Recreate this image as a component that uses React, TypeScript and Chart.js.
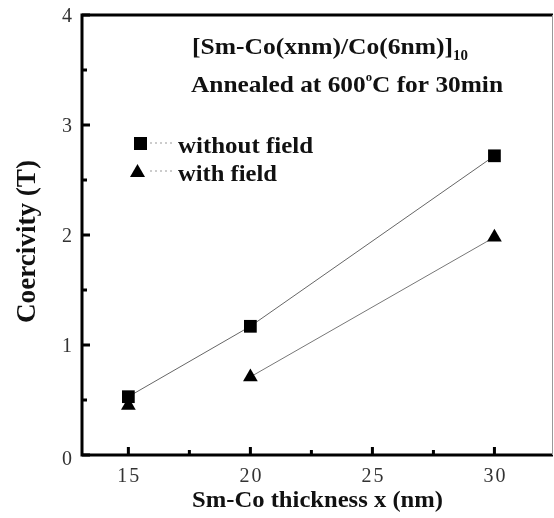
import React, { useEffect, useRef } from "react";
import { Chart, registerables } from "chart.js";

Chart.register(...registerables);

const xValues = [15, 20, 30];
const withoutField = [0.53, 1.17, 2.72];
const withField = [0.45, 0.71, 1.98];
const xTicks = [15, 20, 25, 30];
const xMinor = [17.5, 22.5, 27.5];
const yTicks = [0, 1, 2, 3, 4];
const yMinor = [0.5, 1.5, 2.5, 3.5];
const legendLabels = ["without field", "with field"];
const xTitle = "Sm-Co thickness x (nm)";
const yTitle = "Coercivity (T)";

const SERIF = "'Liberation Serif', 'Times New Roman', serif";

type Part = { t: string; size: number; dy?: number; bold?: boolean };

// draw a run of text parts starting at `left`, fitted horizontally to `width`
function drawFit(ctx: CanvasRenderingContext2D, parts: Part[], left: number, base: number, width: number) {
  let total = 0;
  for (const p of parts) {
    ctx.font = `${p.bold === false ? "" : "bold "}${p.size}px ${SERIF}`;
    total += ctx.measureText(p.t).width;
  }
  const sx = width / total;
  ctx.save();
  ctx.translate(left, base);
  ctx.scale(sx, 1);
  ctx.textAlign = "left";
  ctx.textBaseline = "alphabetic";
  let x = 0;
  for (const p of parts) {
    ctx.font = `${p.bold === false ? "" : "bold "}${p.size}px ${SERIF}`;
    ctx.fillText(p.t, x, p.dy || 0);
    x += ctx.measureText(p.t).width;
  }
  ctx.restore();
}

const decor = {
  id: "decor",
  afterDraw(chart: any) {
    const { ctx, chartArea: a, scales } = chart;
    const xs = scales.x;
    const ys = scales.y;
    ctx.save();
    ctx.strokeStyle = "#000";
    ctx.lineCap = "butt";
    // frame
    ctx.lineWidth = 3;
    ctx.beginPath();
    ctx.moveTo(a.left, a.top);
    ctx.lineTo(a.left, a.bottom);
    ctx.lineTo(a.right, a.bottom);
    ctx.moveTo(a.left - 1.5, a.top);
    ctx.lineTo(a.right, a.top);
    ctx.stroke();
    ctx.lineWidth = 1;
    ctx.strokeStyle = "#999";
    ctx.beginPath();
    ctx.moveTo(a.right - 0.5, a.top);
    ctx.lineTo(a.right - 0.5, a.bottom);
    ctx.stroke();
    // ticks
    ctx.strokeStyle = "#000";
    ctx.lineWidth = 3;
    ctx.beginPath();
    for (const v of yTicks) {
      const py = ys.getPixelForValue(v);
      ctx.moveTo(a.left, py);
      ctx.lineTo(a.left + 8, py);
    }
    for (const v of yMinor) {
      const py = ys.getPixelForValue(v);
      ctx.moveTo(a.left, py);
      ctx.lineTo(a.left + 5, py);
    }
    for (const v of xTicks) {
      const px = xs.getPixelForValue(v);
      ctx.moveTo(px, a.bottom);
      ctx.lineTo(px, a.bottom - 8);
    }
    for (const v of xMinor) {
      const px = xs.getPixelForValue(v);
      ctx.moveTo(px, a.bottom);
      ctx.lineTo(px, a.bottom - 5);
    }
    ctx.stroke();

    // tick labels
    ctx.fillStyle = "#333";
    ctx.font = `20px ${SERIF}`;
    (ctx as any).letterSpacing = "2px";
    ctx.textBaseline = "alphabetic";
    for (const v of xTicks) {
      const s = String(v);
      const w = ctx.measureText(s).width - 2;
      ctx.textAlign = "left";
      ctx.fillText(s, xs.getPixelForValue(v) - w / 2, a.bottom + 27);
    }
    for (const v of yTicks) {
      const s = String(v);
      const w = ctx.measureText(s).width - 2;
      ctx.textAlign = "left";
      ctx.fillText(s, a.left - 10 - w, ys.getPixelForValue(v) + 7 + (v === 0 ? 3 : 0));
    }
    (ctx as any).letterSpacing = "0px";

    // titles
    ctx.fillStyle = "#111";
    drawFit(ctx, [
      { t: "[Sm-Co(xnm)/Co(6nm)]", size: 24 },
      { t: "10", size: 14, dy: 6 },
    ], 192, 54, 276);
    drawFit(ctx, [
      { t: "Annealed at 600", size: 24 },
      { t: "o", size: 12, dy: -11 },
      { t: "C for 30min", size: 24 },
    ], 191, 92, 312);

    // legend
    const legendBase = [153, 181];
    const legendW = [135, 99];
    const legendY = [143, 171];
    legendLabels.forEach((lab, i) => {
      const y = legendY[i];
      ctx.strokeStyle = "#999";
      ctx.lineWidth = 1;
      ctx.setLineDash([2, 3]);
      ctx.beginPath();
      ctx.moveTo(150, y);
      ctx.lineTo(172, y);
      ctx.stroke();
      ctx.setLineDash([]);
      ctx.fillStyle = "#000";
      ctx.beginPath();
      if (i === 0) {
        ctx.rect(134, y - 6, 13, 13);
      } else {
        ctx.moveTo(137.5, y - 7);
        ctx.lineTo(145, y + 6);
        ctx.lineTo(130, y + 6);
        ctx.closePath();
      }
      ctx.fill();
      ctx.fillStyle = "#111";
      drawFit(ctx, [{ t: lab, size: 23 }], 178, legendBase[i], legendW[i]);
    });

    // axis titles
    drawFit(ctx, [{ t: xTitle, size: 24 }], 192, 507, 251);
    ctx.save();
    ctx.translate(35, 323);
    ctx.rotate(-Math.PI / 2);
    ctx.scale(1, 1.1);
    drawFit(ctx, [{ t: yTitle, size: 25 }], 0, 0, 163);
    ctx.restore();
    ctx.restore();
  },
};

export default function App() {
  const ref = useRef<HTMLCanvasElement>(null);
  useEffect(() => {
    const chart = new Chart(ref.current!, {
      type: "line",
      data: {
        datasets: [
          {
            label: legendLabels[0],
            data: xValues.map((x, i) => ({ x, y: withoutField[i] })),
            borderColor: "#666",
            borderWidth: 1,
            pointStyle: "rect",
            pointRadius: 9,
            pointBackgroundColor: "#000",
            pointBorderColor: "#000",
            pointBorderWidth: 0,
          },
          {
            label: legendLabels[1],
            data: xValues.map((x, i) => ({ x, y: withField[i] })),
            borderColor: "#777",
            borderWidth: 1,
            pointStyle: "triangle",
            pointRadius: 8.5,
            pointBackgroundColor: "#000",
            pointBorderColor: "#000",
            pointBorderWidth: 0,
            segment: {
              borderColor: (c: any) => (c.p0DataIndex === 0 ? "rgba(0,0,0,0)" : "#777"),
            },
          },
        ],
      },
      options: {
        responsive: false,
        animation: false,
        layout: { autoPadding: false, padding: { top: 15, right: 1, left: 0, bottom: 0 } },
        plugins: { legend: { display: false }, tooltip: { enabled: false } },
        scales: {
          x: {
            type: "linear",
            min: 13.1,
            max: 32.4,
            afterBuildTicks: (s: any) => {
              s.ticks = xTicks.map((v) => ({ value: v }));
            },
            afterFit: (s: any) => {
              s.height = 63;
            },
            grid: { display: false },
            border: { display: false },
            ticks: { display: false },
          },
          y: {
            type: "linear",
            min: 0,
            max: 4,
            afterBuildTicks: (s: any) => {
              s.ticks = yTicks.map((v) => ({ value: v }));
            },
            afterFit: (s: any) => {
              s.width = 82;
            },
            grid: { display: false },
            border: { display: false },
            ticks: { display: false },
          },
        },
      },
      plugins: [decor],
    } as any);
    return () => chart.destroy();
  }, []);
  return (
    <div style={{ position: "fixed", left: 0, top: 0, width: 554, height: 518, background: "#fff" }}>
      <canvas ref={ref} width={554} height={518} />
    </div>
  );
}
